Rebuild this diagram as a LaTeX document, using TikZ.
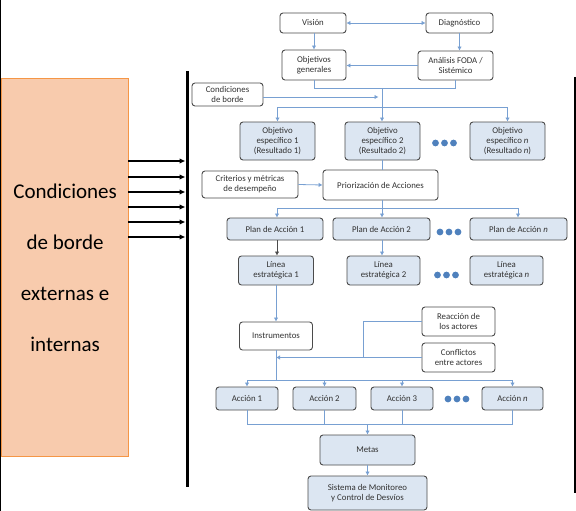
\documentclass[tikz,border=0pt]{standalone}
\usepackage{fontspec}
\setmainfont{Carlito}
\usetikzlibrary{arrows.meta,calc}
\definecolor{peach}{RGB}{248,203,173}
\definecolor{peachedge}{RGB}{245,150,70}
\definecolor{boxblue}{RGB}{220,230,242}
\definecolor{boxedge}{RGB}{75,75,75}
\definecolor{connc}{RGB}{120,160,210}
\definecolor{dotblue}{RGB}{79,129,189}
\definecolor{txtc}{RGB}{50,50,50}
\begin{document}
\begin{tikzpicture}[x=1pt,y=-1pt,
  box/.style={draw=boxedge, line width=0.9pt, rounded corners=3pt, fill=white, inner sep=0pt,
    align=center, font=\fontsize{8.8}{10}\selectfont, text=txtc},
  bbox/.style={box, fill=boxblue},
  conn/.style={draw=connc, line width=0.8pt},
  arr/.style={conn, -{Latex[length=4pt,width=4.5pt]}},
  darr/.style={draw=boxedge, line width=0.8pt, -{Latex[length=4pt,width=4.5pt]}},
  blk/.style={draw=black, line width=1.3pt, -{Latex[length=6pt,width=5.5pt]}},
  dotsty/.style={fill=dotblue}
]
\useasboundingbox (0,0) rectangle (576,511);

% frame lines
\coordinate (lt) at (0.6,0);
\coordinate (lb) at (0.6,511);
\draw[line width=1.2pt] (lt) -- (lb);
\coordinate (rt) at (575,77);
\coordinate (rb) at (575,493);
\draw[line width=1.2pt] (rt) -- (rb);
\coordinate (bt) at (187.5,71);
\coordinate (bb) at (187.5,487);
\draw[line width=3.5pt] (bt) -- (bb);

% external conditions box
\node[draw=peachedge, fill=peach, line width=0.9pt, minimum width=127pt, minimum height=378pt,
  anchor=north west, inner sep=0pt, align=center, font=\fontsize{21}{51}\selectfont] (ext) at (1.2,78)
  {Condiciones\\de borde\\externas e\\internas};

\foreach \yy [count=\i] in {161,177,192,207,222,237} {
  \coordinate (s\i) at (128,\yy);
  \coordinate (t\i) at (185.5,\yy);
  \draw[blk] (s\i) -- (t\i);
}

% top
\node[box, minimum width=66pt, minimum height=20pt] (vis) at (313,23) {Visión};
\node[box, minimum width=67pt, minimum height=20pt] (diag) at (459.5,23) {Diagnóstico};
\node[box, minimum width=64pt, minimum height=30pt] (objg) at (314,65) {Objetivos\\generales};
\node[box, minimum width=75pt, minimum height=29pt] (foda) at (455.5,65.5) {Análisis FODA /\\Sistémico};
\node[box, minimum width=71pt, minimum height=23pt] (cbord) at (227.5,94.5) {Condiciones\\de borde};

\draw[conn, {Latex[length=4pt,width=4.5pt]}-{Latex[length=4pt,width=4.5pt]}] (vis) -- (diag);
\draw[arr] (vis.south -| objg.south) -- (objg.north);
\draw[arr] (diag.south) -- (diag.south |- foda.north);
\draw[arr] (foda.west) -- (objg.east |- foda.west);

\coordinate (j1) at (382,88);
\coordinate (bus1) at (382,107);
\draw[conn] (objg.south) -- (objg.south |- j1) -| (foda.south);

% objetivos especificos
\node[bbox, minimum width=75pt, minimum height=38pt] (oe1) at (277.5,141) {Objetivo\\específico 1\\(Resultado 1)};
\node[bbox, minimum width=75pt, minimum height=38pt] (oe2) at (382.5,141) {Objetivo\\específico 2\\(Resultado 2)};
\node[bbox, minimum width=75pt, minimum height=38pt] (oen) at (507.5,141) {Objetivo\\específico \textit{n}\\(Resultado \textit{n})};

\draw[arr] (cbord.east) ++(0,2.5) -- ($(j1 |- cbord.east)+(-3.5,2.5)$);
\draw[conn] (j1) -- (bus1);
\draw[conn] (oe1.north |- bus1) -- (oen.north |- bus1);
\draw[arr] (oe1.north |- bus1) -- (oe1.north);
\draw[arr] (bus1) -- (bus1 |- oe2.north);
\draw[arr] (oen.north |- bus1) -- (oen.north);

% criterios / priorizacion
\node[box, minimum width=96pt, minimum height=27pt] (crit) at (250,184.5) {Criterios y métricas\\de desempeño};
\node[box, minimum width=115pt, minimum height=30pt] (prio) at (380.5,185) {Priorización de Acciones};
\draw[conn] (bus1 |- oe2.south) -- (bus1 |- prio.north);
\draw[arr] (crit.east) -- (prio.west);

% planes
\node[bbox, minimum width=96pt, minimum height=22pt] (pa1) at (275,229) {Plan de Acción 1};
\node[bbox, minimum width=97pt, minimum height=22pt] (pa2) at (381.5,229) {Plan de Acción 2};
\node[bbox, minimum width=97pt, minimum height=22pt] (pan) at (518.5,229) {Plan de Acción \textit{n}};
\coordinate (bus2) at (382,208);
\draw[conn] (bus1 |- prio.south) -- (bus2);
\coordinate (b2l) at (277,208);
\coordinate (b2r) at (518,208);
\draw[conn] (b2l) -- (b2r);
\draw[arr] (b2l) -- (b2l |- pa1.north);
\draw[arr] (bus2) -- (bus2 |- pa2.north);
\draw[arr] (b2r) -- (b2r |- pan.north);

% lineas
\node[bbox, minimum width=75pt, minimum height=29pt] (le1) at (276,270.5) {Línea\\estratégica 1};
\node[bbox, minimum width=73pt, minimum height=29pt] (le2) at (383.5,270.5) {Línea\\estratégica 2};
\node[bbox, minimum width=73pt, minimum height=29pt] (len) at (506.5,270.5) {Línea\\estratégica \textit{n}};
\draw[darr] (b2l |- pa1.south) -- (b2l |- le1.north);
\draw[arr] (bus2 |- pa2.south) -- (bus2 |- le2.north);

% instrumentos
\node[box, minimum width=73pt, minimum height=28pt] (inst) at (276,336) {Instrumentos};
\node[box, minimum width=73pt, minimum height=29pt] (reac) at (458.5,321.5) {Reacción de\\los actores};
\node[box, minimum width=73pt, minimum height=29pt] (conf) at (458.5,357.5) {Conflictos\\entre actores};
\draw[arr] (le1.south) -- (inst.north);
\coordinate (m1) at (363,357.5);
\draw[conn] (reac.west) -| (m1);
\draw[arr] (conf.west) -- (inst.south |- conf.west);

% acciones
\node[bbox, minimum width=62pt, minimum height=23pt] (a1) at (247,398.5) {Acción 1};
\node[bbox, minimum width=63pt, minimum height=23pt] (a2) at (324.5,398.5) {Acción 2};
\node[bbox, minimum width=62pt, minimum height=23pt] (a3) at (402,398.5) {Acción 3};
\node[bbox, minimum width=61pt, minimum height=23pt] (an) at (512.5,398.5) {Acción \textit{n}};
\coordinate (bus3) at (276,380);
\draw[conn] (inst.south) -- (bus3);
\draw[conn] (a1.north |- bus3) -- (an.north |- bus3);
\foreach \n in {a1,a2,a3,an} \draw[arr] (\n.north |- bus3) -- (\n.north);

% metas
\node[bbox, minimum width=95pt, minimum height=30pt] (metas) at (367.5,450) {Metas};
\node[bbox, minimum width=119pt, minimum height=34pt] (sist) at (367.5,493) {Sistema de Monitoreo\\y Control de Desvíos};
\coordinate (bus4) at (367.5,424);
\foreach \n in {a1,a2,a3,an} \draw[conn] (\n.south) -- (\n.south |- bus4);
\draw[conn] (a1.south |- bus4) -- (an.south |- bus4);
\draw[arr] (bus4) -- (metas.north);
\draw[arr] (metas.south) -- (sist.north);

% dots
\foreach \cx/\cy in {444.5/143, 449/232, 446.5/275, 457/399} {
  \foreach \k in {-9,0,9} \fill[dotsty] (\cx+\k,\cy) circle (3.4pt);
}
\end{tikzpicture}
\end{document}
